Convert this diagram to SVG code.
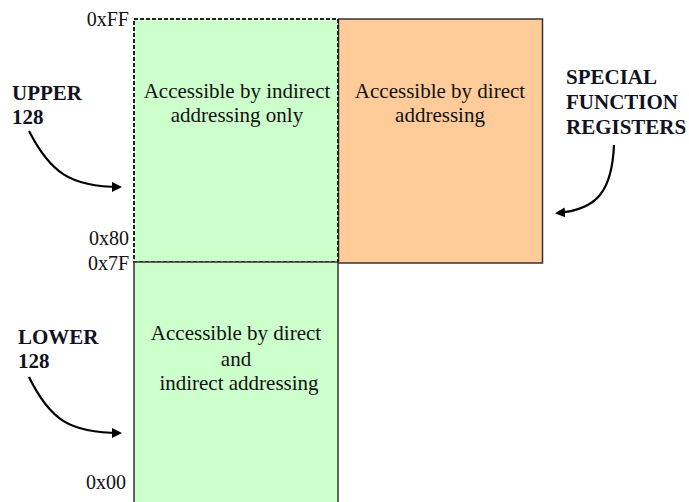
<svg xmlns="http://www.w3.org/2000/svg" width="689" height="502" viewBox="0 0 689 502">
<style>
text{font-family:"Liberation Serif","Times New Roman",Times,"DejaVu Serif",serif;font-size:21px;fill:#111}
.a{font-size:20px}
.b{font-weight:bold;fill:#111122}
.c{text-anchor:middle}
.r{text-anchor:end}
.con{fill:none;stroke:#000;stroke-width:2.2}
</style>
<defs>
<marker id="ah" markerWidth="10" markerHeight="10" refX="8" refY="5" orient="auto" markerUnits="userSpaceOnUse">
<path d="M0,0 L10,5 L0,10 Z" fill="#000"/>
</marker>
</defs>
<rect width="689" height="502" fill="#fff"/>
<g id="sfr">
<rect x="338.5" y="19" width="204" height="244" fill="#FFCC99" stroke="#333" stroke-width="1.5"/>
<text class="c" x="440" y="98">Accessible by direct</text>
<text class="c" x="440" y="122">addressing</text>
</g>
<g id="upper">
<rect x="134" y="19" width="204" height="243" fill="#CCFFCC" stroke="#222" stroke-width="2" stroke-dasharray="4,2"/>
<text class="c" x="237" y="98">Accessible by indirect</text>
<text class="c" x="237" y="122">addressing only</text>
</g>
<g id="lower">
<rect x="134" y="262" width="204" height="250" fill="#CCFFCC" stroke="#333" stroke-width="1.5"/>
<text class="c" x="236" y="340">Accessible by direct</text>
<text class="c" x="236" y="366">and</text>
<text class="c" x="239" y="390">indirect addressing</text>
</g>
<g id="addresses">
<text class="r a" x="129" y="26">0xFF</text>
<text class="r a" x="129" y="245">0x80</text>
<text class="r a" x="129" y="270">0x7F</text>
<text class="r a" x="126" y="489">0x00</text>
</g>
<g id="labels">
<text class="b" x="12" y="100">UPPER</text>
<text class="b" x="12" y="124">128</text>
<text class="b" x="18" y="344">LOWER</text>
<text class="b" x="18" y="368">128</text>
<text class="b" x="566" y="84">SPECIAL</text>
<text class="b" x="566" y="109">FUNCTION</text>
<text class="b" x="566" y="134">REGISTERS</text>
</g>
<g id="connectors">
<path class="con" d="M29,131 C50,172 70,187 120,187" marker-end="url(#ah)"/>
<path class="con" d="M29,377 C50,420 70,433 120,433" marker-end="url(#ah)"/>
<path class="con" d="M614,145 C612,190 598,210 557,213" marker-end="url(#ah)"/>
</g>
</svg>
